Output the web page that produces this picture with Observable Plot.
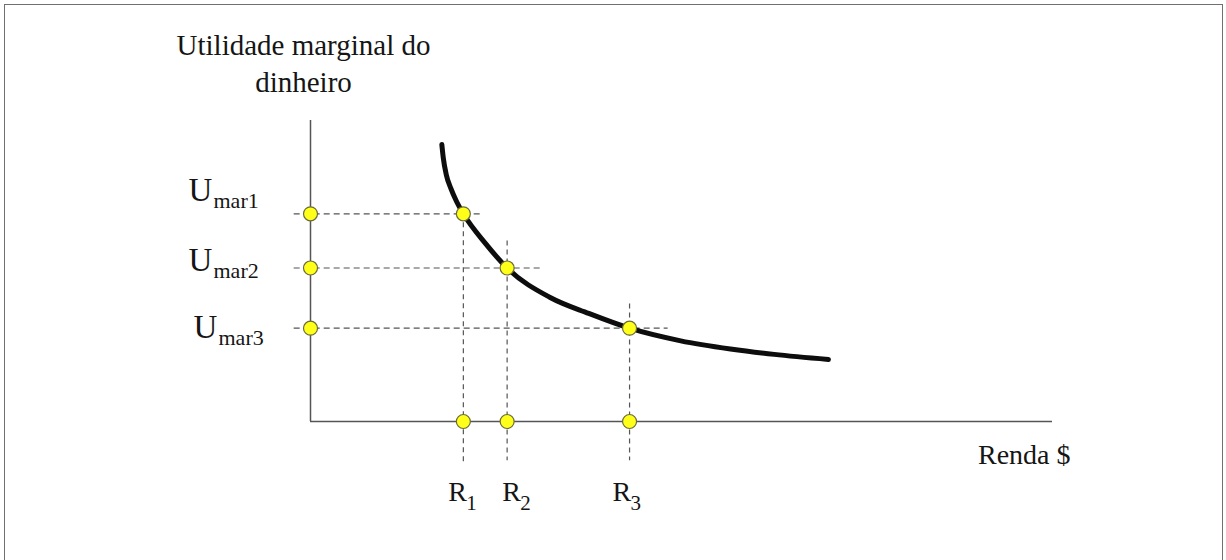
<!DOCTYPE html>
<html>
<head>
<meta charset="utf-8">
<script src="https://cdn.jsdelivr.net/npm/d3@7"></script>
<script src="https://cdn.jsdelivr.net/npm/@observablehq/plot@0.6"></script>
<style>
  html, body { margin: 0; padding: 0; background: #fff; }
  #wrap { position: relative; width: 1226px; height: 560px; overflow: hidden; }
  #chart svg { display: block; }
  #border {
    position: absolute; left: 4px; top: 4px; width: 1219px; height: 620px;
    border: 1.5px solid #707070; box-sizing: border-box; pointer-events: none;
  }
</style>
</head>
<body>
<div id="wrap"><div id="chart"></div><div id="border"></div></div>
<script>
// Income levels R1..R3 and the marginal utility of money at each level
const incomeSubs = ["1", "2", "3"];
const income = [20.6, 26.5, 43.0];
const utilitySubs = ["mar1", "mar2", "mar3"];
const utility = [69, 51, 31];

// Decreasing marginal utility curve, sampled along its length
const curveX = [17.7, 17.9, 18.3, 18.9, 19.7, 20.6, 23.6, 26.5, 32.3, 37.5, 43.0, 49.9, 56.6, 62.5, 69.8];
const curveY = [92.0, 87.5, 82.0, 77.5, 73.0, 69.0, 59.1, 51.0, 41.2, 35.9, 31.0, 26.8, 24.1, 22.3, 20.6];

// Ends of the dashed guide lines
const hGuideEnd = [23.3, 31.0, 48.2];
const vGuideTop = [69, 60, 39];
const vGuideBottom = [-14.6, -13, -13];

const xTitle = "Renda $";
const yTitle = "Utilidade marginal do\ndinheiro";

const curve = curveX.map((x, i) => ({x, y: curveY[i]}));
const font = "'Liberation Serif', 'Times New Roman', serif";
const ink = "#151515";
const axisInk = "#555";
const guideInk = "#555";
const dotFill = "#ffff1a";
const dotStroke = "#6b6b3a";

// Label nudges (pixels) so each subscripted label sits beside its guide
const uShiftX = [-122, -122, -117];
const uShiftY = [-13, 3, 10];
const rShiftX = [-15, -5, -17];

const marks = [
  // axes
  Plot.ruleY([0], {y: d => d, x1: () => 0, x2: () => 100, stroke: axisInk, strokeWidth: 1.5}),
  Plot.ruleX([0], {x: d => d, y1: () => 0, y2: () => 100, stroke: axisInk, strokeWidth: 1.5}),
  // dashed guides
  Plot.ruleY(utility, {y: d => d, x1: () => -2.2, x2: (d, i) => hGuideEnd[i],
    stroke: guideInk, strokeWidth: 1.2, strokeDasharray: "6,4"}),
  Plot.ruleX(income, {x: d => d, y1: (d, i) => vGuideTop[i], y2: (d, i) => vGuideBottom[i],
    stroke: guideInk, strokeWidth: 1.2, strokeDasharray: "5,4"}),
  // curve
  Plot.line(curve, {x: "x", y: "y", curve: "monotone-x", stroke: "#0d0d0d",
    strokeWidth: 5, strokeLinecap: "round"}),
  // points on the curve and their projections on the axes
  Plot.dot(income, {x: d => d, y: (d, i) => utility[i], r: 7, fill: dotFill, stroke: dotStroke, strokeWidth: 1.2}),
  Plot.dot(income, {x: d => d, y: () => 0, r: 7, fill: dotFill, stroke: dotStroke, strokeWidth: 1.2}),
  Plot.dot(utility, {x: () => 0, y: d => d, r: 7, fill: dotFill, stroke: dotStroke, strokeWidth: 1.2}),
  // axis titles
  Plot.text([yTitle], {x: () => 0, y: () => 100, text: d => d, dx: -7, dy: -29,
    lineAnchor: "bottom", textAnchor: "middle", lineHeight: 1.27, fontSize: 29, fill: ink}),
  Plot.text([xTitle], {x: () => 100, y: () => 0, text: d => d, dx: 18, dy: 42,
    lineAnchor: "bottom", textAnchor: "end", fontSize: 28, fill: ink})
];

// U_mar labels on the vertical axis
utility.forEach((u, i) => {
  marks.push(Plot.text([u], {x: () => 0, y: d => d, text: () => "U", dx: uShiftX[i], dy: uShiftY[i],
    lineAnchor: "bottom", textAnchor: "start", fontSize: 33, fill: ink}));
  marks.push(Plot.text([u], {x: () => 0, y: d => d, text: () => utilitySubs[i], dx: uShiftX[i] + 25, dy: uShiftY[i] + 7,
    lineAnchor: "bottom", textAnchor: "start", fontSize: 22, fill: ink}));
});

// R labels under the horizontal axis
income.forEach((r, i) => {
  marks.push(Plot.text([r], {x: d => d, y: () => 0, text: () => "R", dx: rShiftX[i], dy: 79,
    lineAnchor: "bottom", textAnchor: "start", fontSize: 28, fill: ink}));
  marks.push(Plot.text([r], {x: d => d, y: () => 0, text: () => incomeSubs[i], dx: rShiftX[i] + 18, dy: 88,
    lineAnchor: "bottom", textAnchor: "start", fontSize: 21, fill: ink}));
});

const chart = Plot.plot({
  width: 1226,
  height: 560,
  marginLeft: 310,
  marginRight: 174,
  marginTop: 120,
  marginBottom: 139,
  x: {domain: [0, 100], axis: null},
  y: {domain: [0, 100], axis: null},
  style: {fontFamily: font, background: "transparent", overflow: "visible"},
  marks
});
document.getElementById("chart").appendChild(chart);
</script>
</body>
</html>
